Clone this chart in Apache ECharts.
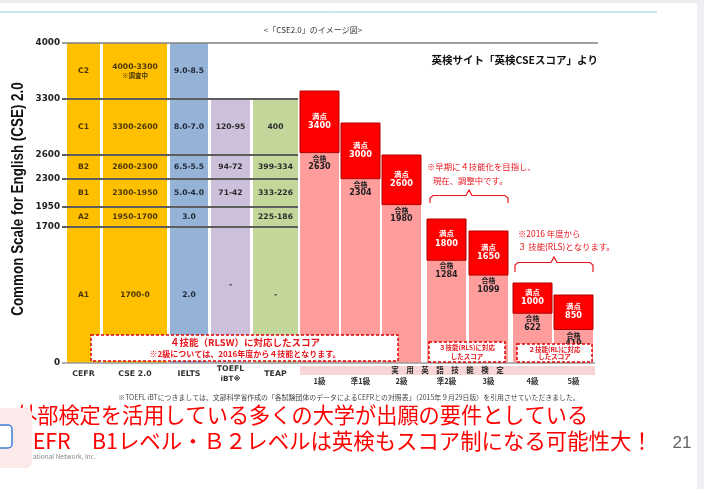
<!DOCTYPE html>
<html><head><meta charset="utf-8">
<script src="https://cdn.jsdelivr.net/npm/echarts@6/dist/echarts.min.js"></script>
<style>html,body{margin:0;padding:0;background:#fff}#c{width:704px;height:489px}</style>
</head><body><div id="c"></div>
<script>
// ---------------- data ----------------
const yTicks = [0, 1700, 1950, 2300, 2600, 3300, 4000];
const bandEdges = [4000, 3300, 2600, 2300, 1950, 1700, 0];
const cefrLevels = ['C2', 'C1', 'B2', 'B1', 'A2', 'A1'];
const cseRanges = ['4000-3300', '3300-2600', '2600-2300', '2300-1950', '1950-1700', '1700-0'];
const cseNotes = ['※調査中', '', '', '', '', ''];
const ieltsScores = ['9.0-8.5', '8.0-7.0', '6.5-5.5', '5.0-4.0', '3.0', '2.0'];
const toeflEdges = [3300, 2600, 2300, 1950, 0];
const toeflScores = ['120-95', '94-72', '71-42', '-'];
const teapEdges = [3300, 2600, 2300, 1950, 1700, 0];
const teapScores = ['400', '399-334', '333-226', '225-186', '-'];
const eikenGrades = ['1級', '準1級', '2級', '準2級', '3級', '4級', '5級'];
const eikenFull = [3400, 3000, 2600, 1800, 1650, 1000, 850];
const eikenPass = [2630, 2304, 1980, 1284, 1099, 622, 419];
const testNames = ['CEFR', 'CSE 2.0', 'IELTS', 'TOEFL\niBT※', 'TEAP'];

// ---------------- layout / style ----------------
const COL_W = [33, 64, 38, 39, 45, 39, 39, 39, 39, 39, 39, 39];
const COL_GAP = [5, 3, 3, 3, 3, 2, 2, 2, 6, 3, 5, 2];
const GOLD = '#FFC000', BLUE = '#95B3D7', LAV = '#CCC0DA', GREEN = '#C4D79B';
const PINK = '#FF9C9C', RED = '#FF0000';
const JP = '"Noto Sans CJK JP", sans-serif';
const LAT = '"DejaVu Sans", sans-serif';

function colX(col) {
  let x = 0;
  for (let i = 0; i <= col; i++) { x += COL_GAP[i]; if (i < col) x += COL_W[i]; }
  return [x, x + COL_W[col]];
}

// build cells
const cells = [];
function addBands(col, edges, labels, fill, color, notes) {
  for (let i = 0; i < labels.length; i++) {
    cells.push({ col, hi: edges[i], lo: edges[i + 1], text: labels[i], sub: notes ? notes[i] : '', fill, color, kind: 'band' });
  }
}
addBands(0, bandEdges, cefrLevels, GOLD, '#4a3606');
addBands(1, bandEdges, cseRanges, GOLD, '#4a3606', cseNotes);
addBands(2, bandEdges, ieltsScores, BLUE, '#1d2635');
addBands(3, toeflEdges, toeflScores, LAV, '#2a2a2a');
addBands(4, teapEdges, teapScores, GREEN, '#2a2a2a');
eikenGrades.forEach((g, k) => {
  cells.push({ col: 5 + k, hi: eikenPass[k], lo: 0, text: String(eikenPass[k]), fill: PINK, kind: 'pass' });
  cells.push({ col: 5 + k, hi: eikenFull[k], lo: eikenPass[k], text: String(eikenFull[k]), fill: RED, kind: 'full' });
});

function renderCell(params, api) {
  const c = cells[params.dataIndex];
  const [l, r] = colX(c.col);
  const p1 = api.coord([l, c.hi]);
  const p2 = api.coord([r, c.lo]);
  const x = p1[0], y = p1[1], w = p2[0] - p1[0], h = p2[1] - p1[1];
  const cx = x + w / 2, cy = y + h / 2;
  const children = [{
    type: 'rect', shape: { x, y, width: w, height: h },
    style: { fill: c.fill, stroke: c.kind === 'full' ? '#B00000' : null, lineWidth: c.kind === 'full' ? 1 : 0 }
  }];
  const txt = (t, tx, ty, fs, fill, font, bold) => ({
    type: 'text', style: { text: t, x: tx, y: ty, align: 'center', verticalAlign: 'middle',
      fontSize: fs, fontWeight: bold ? 'bold' : 'normal', fontFamily: font, fill } });
  if (c.kind === 'band') {
    if (c.sub) {
      children.push(txt(c.text, cx, cy - 4, 7.6, c.color, LAT, true));
      children.push(txt(c.sub, cx, cy + 5, 6.5, c.color, JP, true));
    } else {
      children.push(txt(c.text, cx, cy, 7.6, c.color, LAT, true));
    }
  } else if (c.kind === 'full') {
    children.push(txt('満点', cx, cy - 6, 7.4, '#fff', JP, true));
    children.push(txt(c.text, cx, cy + 4, 8.2, '#fff', LAT, true));
  } else {
    children.push(txt('合格', cx, y + 5.5, 7, '#222', JP, true));
    children.push(txt(c.text, cx, y + 14.5, 8, '#222', LAT, true));
  }
  return { type: 'group', children };
}

function renderLine(params, api) {
  const v = bandEdges[params.dataIndex];
  let right = colX(4)[1];
  let color = '#5e5e5e', lw = 2;
  if (v === 4000) { right = 536; color = '#808080'; lw = 1.5; }
  if (v === 0) { right = colX(11)[1] + 2; color = '#9a9a9a'; lw = 1.5; }
  const a = api.coord([0, v]), b = api.coord([right, v]);
  return { type: 'line', shape: { x1: a[0], y1: a[1], x2: b[0], y2: b[1] }, style: { stroke: color, lineWidth: lw } };
}

const allNames = testNames.concat(eikenGrades);
function renderLabel(params, api) {
  const i = params.dataIndex;
  const [l, r] = colX(i);
  const p = api.coord([(l + r) / 2, 0]);
  const children = [];
  if (i < 5) {
    const lines = allNames[i].split('\n');
    if (lines.length === 1) {
      children.push({ type: 'text', style: { text: lines[0], x: p[0], y: p[1] + 11, align: 'center', verticalAlign: 'middle', fontSize: 7.8, fontWeight: 'bold', fontFamily: LAT, fill: '#333' } });
    } else {
      children.push({ type: 'text', style: { text: lines[0], x: p[0], y: p[1] + 6, align: 'center', verticalAlign: 'middle', fontSize: 7.8, fontWeight: 'bold', fontFamily: LAT, fill: '#333' } });
      children.push({ type: 'text', style: { text: lines[1], x: p[0], y: p[1] + 16, align: 'center', verticalAlign: 'middle', fontSize: 7.2, fontWeight: 'bold', fontFamily: LAT, fill: '#333' } });
    }
  } else {
    if (i === 5) {
      const a = api.coord([colX(5)[0], 0]);
      const b = api.coord([colX(11)[1] + 2, 0]);
      children.push({ type: 'rect', shape: { x: a[0], y: a[1] + 3, width: b[0] - a[0], height: 9 }, style: { fill: '#F7D5D5' } });
      children.push({ type: 'text', style: { text: '実　用　英　語　技　能　検　定', x: (a[0] + b[0]) / 2, y: a[1] + 7.5, align: 'center', verticalAlign: 'middle', fontSize: 7.5, fontWeight: 'bold', fontFamily: JP, fill: '#222' } });
    }
    children.push({ type: 'text', style: { text: allNames[i], x: p[0], y: p[1] + 18, align: 'center', verticalAlign: 'middle', fontSize: 7.5, fontWeight: 'bold', fontFamily: JP, fill: '#333' } });
  }
  return { type: 'group', children };
}

const redT = (t, x, y, fs, opts) => Object.assign({ type: 'text', z: 100, style: Object.assign({ text: t, x, y, fontSize: fs, fontFamily: JP, fill: '#E8141B', textAlign: 'left', textVerticalAlign: 'middle' }, opts || {}) });

const chart = echarts.init(document.getElementById('c'), null, { renderer: 'canvas' });
chart.setOption({
  backgroundColor: '#fff',
  animation: false,
  grid: { left: 62, right: 106, top: 43, bottom: 126 },
  xAxis: { type: 'value', min: 0, max: 536, show: false },
  yAxis: {
    type: 'value', min: 0, max: 4000,
    axisLine: { show: false }, axisTick: { show: false }, splitLine: { show: false },
    axisLabel: { customValues: yTicks, formatter: v => String(v), fontFamily: LAT, fontWeight: 'bold', fontSize: 8.8, color: '#222', margin: 2 }
  },
  series: [
    { type: 'custom', renderItem: renderCell, data: cells.map(c => [c.col, c.lo, c.hi]), z: 2, clip: false },
    { type: 'custom', renderItem: renderLine, data: bandEdges.map(v => [0, v]), z: 3, clip: false },
    { type: 'custom', renderItem: renderLabel, data: allNames.map((n, i) => [i, 0]), z: 3, clip: false }
  ],
  graphic: [
    { type: 'rect', z: 0, shape: { x: 0, y: 0, width: 704, height: 3 }, style: { fill: '#ececec' } },
    { type: 'rect', z: 0, shape: { x: 697, y: 0, width: 7, height: 489 }, style: { fill: '#eef0f3' } },
    { type: 'line', z: 0, shape: { x1: 0, y1: 12, x2: 657, y2: 12 }, style: { stroke: '#94d2de', lineWidth: 1 } },
    // y-axis title
    { type: 'text', z: 100, x: 18, y: 199, rotation: Math.PI / 2, scaleX: 0.79, style: { text: 'Common Scale for English (CSE) 2.0', x: 0, y: 0, fontSize: 17, fontWeight: 'bold', fontFamily: '"Liberation Sans", sans-serif', fill: '#111', textAlign: 'center', textVerticalAlign: 'middle' } },
    { type: 'text', z: 100, style: { text: '<「CSE2.0」のイメージ図>', x: 313, y: 30, fontSize: 8, fontFamily: JP, fill: '#333', textAlign: 'center', textVerticalAlign: 'middle' } },
    { type: 'text', z: 100, style: { text: '英検サイト「英検CSEスコア」より', x: 598, y: 60, fontSize: 10.5, fontWeight: 'bold', fontFamily: JP, fill: '#111', textAlign: 'right', textVerticalAlign: 'middle' } },
    // notes
    redT('※早期に４技能化を目指し、', 427, 167, 8.4),
    redT('現在、調整中です。', 433, 181, 8.4),
    { type: 'polyline', z: 100, shape: { points: [[430, 203], [430, 198], [433, 195.5], [466, 195.5], [469, 190], [472, 195.5], [505, 195.5], [508, 198], [508, 203]] }, style: { stroke: '#E8141B', lineWidth: 1.2, fill: null } },
    redT('※2016 年度から', 518, 234, 8.4),
    redT('３ 技能(RLS)となります。', 518, 247, 8.4),
    { type: 'polyline', z: 100, shape: { points: [[515, 272], [515, 265], [518, 262.5], [551, 262.5], [554, 257], [557, 262.5], [590, 262.5], [593, 265], [593, 272]] }, style: { stroke: '#E8141B', lineWidth: 1.2, fill: null } },
    // dashed boxes
    { type: 'rect', z: 100, shape: { x: 91, y: 335, width: 307, height: 26 }, style: { fill: '#fff', stroke: '#E00000', lineWidth: 1.5, lineDash: [3, 2] } },
    { type: 'text', z: 101, style: { text: '４技能（RLSW）に対応したスコア', x: 245, y: 342, fontSize: 9.5, fontWeight: 'bold', fontFamily: JP, fill: '#E8141B', textAlign: 'center', textVerticalAlign: 'middle' } },
    { type: 'text', z: 101, style: { text: '※2級については、2016年度から４技能となります。', x: 245, y: 354, fontSize: 8, fontWeight: 'bold', fontFamily: JP, fill: '#E8141B', textAlign: 'center', textVerticalAlign: 'middle' } },
    { type: 'rect', z: 100, shape: { x: 429, y: 342, width: 76, height: 20 }, style: { fill: '#fff', stroke: '#E00000', lineWidth: 1.5, lineDash: [3, 2] } },
    { type: 'text', z: 101, style: { text: '３技能(RLS)に対応', x: 467, y: 348, fontSize: 6.5, fontWeight: 'bold', fontFamily: JP, fill: '#E8141B', textAlign: 'center', textVerticalAlign: 'middle' } },
    { type: 'text', z: 101, style: { text: 'したスコア', x: 467, y: 356.5, fontSize: 6.5, fontWeight: 'bold', fontFamily: JP, fill: '#E8141B', textAlign: 'center', textVerticalAlign: 'middle' } },
    { type: 'rect', z: 100, shape: { x: 517, y: 344, width: 75, height: 18 }, style: { fill: '#fff', stroke: '#E00000', lineWidth: 1.5, lineDash: [3, 2] } },
    { type: 'text', z: 101, style: { text: '２技能(RL)に対応', x: 554.5, y: 349.5, fontSize: 6.5, fontWeight: 'bold', fontFamily: JP, fill: '#E8141B', textAlign: 'center', textVerticalAlign: 'middle' } },
    { type: 'text', z: 101, style: { text: 'したスコア', x: 554.5, y: 357, fontSize: 6.5, fontWeight: 'bold', fontFamily: JP, fill: '#E8141B', textAlign: 'center', textVerticalAlign: 'middle' } },
    // footnote
    { type: 'text', z: 100, style: { text: '※TOEFL iBTにつきましては、文部科学省作成の「各試験団体のデータによるCEFRとの対照表」（2015年９月29日版）を引用させていただきました。', x: 349, y: 397, fontSize: 6.9, fontFamily: JP, fill: '#444', textAlign: 'center', textVerticalAlign: 'middle' } },
    // big red text
    { type: 'text', z: 100, style: { text: '外部検定を活用している多くの大学が出願の要件としている', x: 16, y: 415, fontSize: 21.2, fontFamily: JP, fill: '#FF0000', textAlign: 'left', textVerticalAlign: 'middle' } },
    { type: 'text', z: 100, style: { text: 'CEFR　B1レベル・Ｂ２レベルは英検もスコア制になる可能性大！', x: 19, y: 441, fontSize: 21.4, fontFamily: JP, fill: '#FF0000', textAlign: 'left', textVerticalAlign: 'middle' } },
    { type: 'text', z: 100, style: { text: 'ational Network, Inc.', x: 33, y: 457, fontSize: 6.5, fontFamily: JP, fill: '#888', textAlign: 'left', textVerticalAlign: 'middle' } },
    // left overlay
    { type: 'rect', z: 120, shape: { x: -6, y: 408, width: 38, height: 60, r: 6 }, style: { fill: '#fce9e9' } },
    { type: 'rect', z: 121, shape: { x: -6, y: 425, width: 18, height: 23, r: 4 }, style: { fill: '#fff', stroke: '#3b7dd8', lineWidth: 1.5 } },
    { type: 'text', z: 100, style: { text: '21', x: 682, y: 443, fontSize: 17, fontFamily: '"Liberation Sans", sans-serif', fill: '#666', textAlign: 'center', textVerticalAlign: 'middle' } }
  ]
});
</script>
</body></html>
